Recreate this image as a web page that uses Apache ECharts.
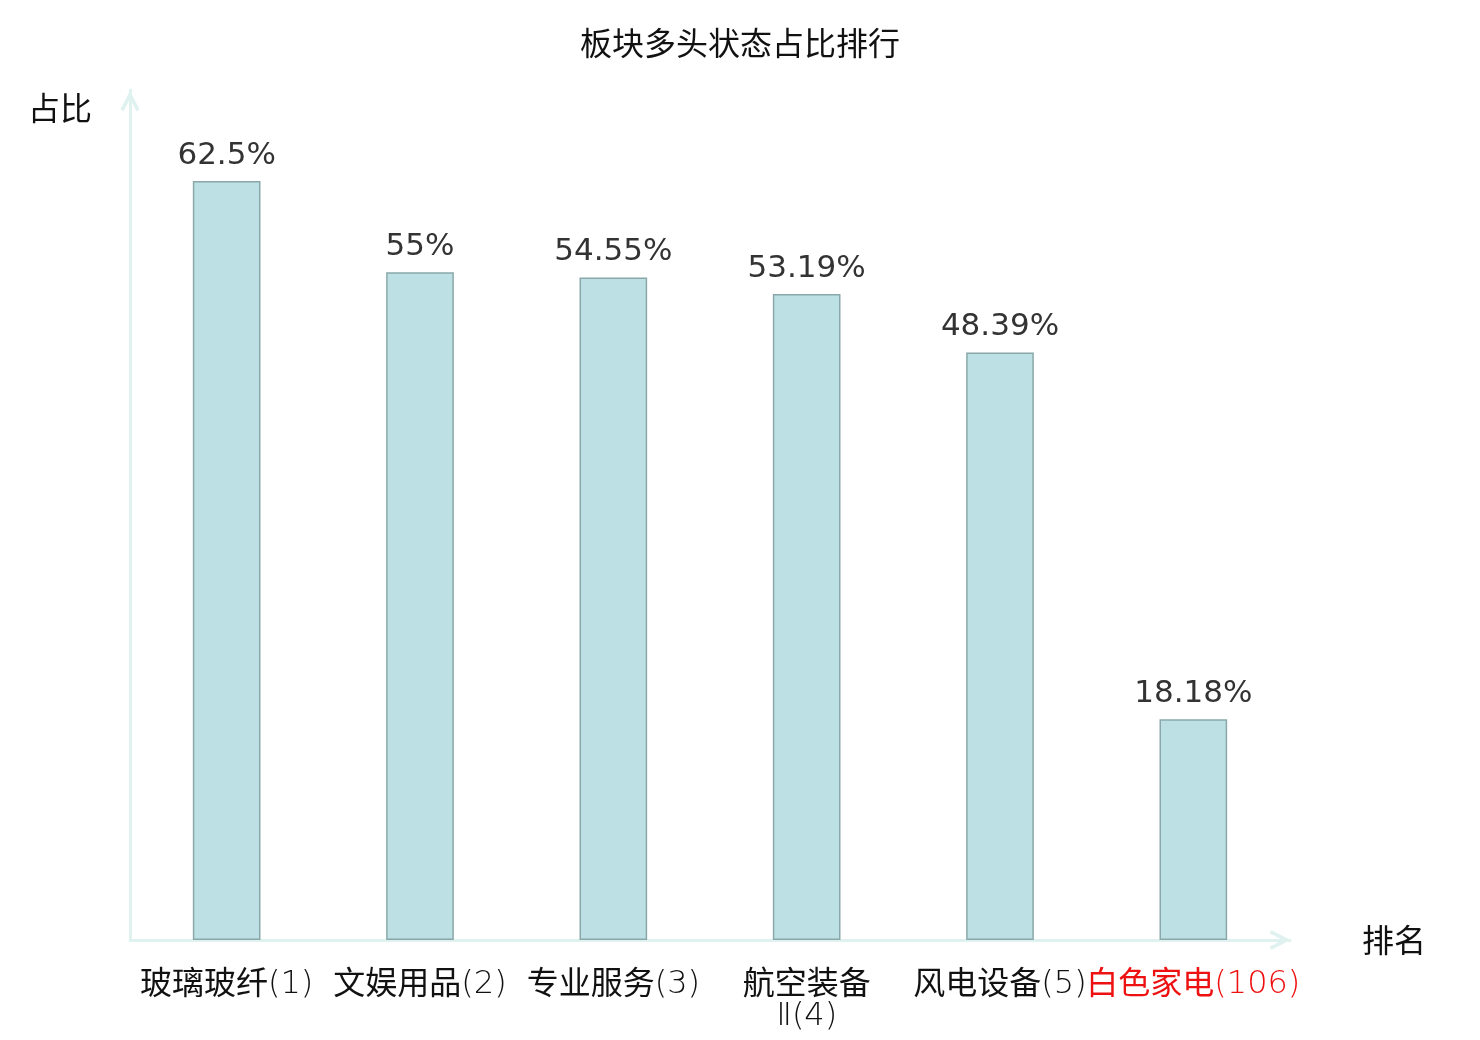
<!DOCTYPE html>
<html>
<head>
<meta charset="utf-8">
<script src="https://cdn.jsdelivr.net/npm/echarts@6/dist/echarts.min.js"></script>
<style>
  html, body { margin: 0; padding: 0; background: #fff; }
  #main { width: 1480px; height: 1040px; }
</style>
</head>
<body>
<div id="main"></div>
<script type="text/javascript">
  // 板块名称(排名)
  var categories = ['玻璃玻纤(1)', '文娱用品(2)', '专业服务(3)', '航空装备\nⅡ(4)', '风电设备(5)', '白色家电(106)'];
  // 多头状态占比 %
  var ratios = [62.5, 55, 54.55, 53.19, 48.39, 18.18];
  // 需要标红的板块
  var highlightIndex = 5;

  // 空心箭头
  var chevron = 'path://M9,0 L18,17.5 L15.2,19.5 L9,7.6 L2.8,19.5 L0,17.5 Z';

  var main = document.getElementById('main');
  var mainChart = echarts.init(main);

  // 中文部分用常规字体, 括号和数字用细体
  function labelText(value, red) {
    return value.split('\n').map(function (line) {
      var m = line.match(/^([\u4e00-\u9fff]*)(.*)$/);
      var s = '';
      if (m[1]) s += '{' + (red ? 'cr' : 'c') + '|' + m[1] + '}';
      if (m[2]) s += '{' + (red ? 'nr' : 'n') + '|' + m[2] + '}';
      return s;
    }).join('\n');
  }

  var cjkFont = 'Noto Sans CJK SC';
  var thinFont = '"DejaVu Sans ExtraLight", "DejaVu Sans"';

  var option = {
    backgroundColor: '#fff',
    title: {
      text: '板块多头状态占比排行',
      left: 'center',
      top: 22,
      textStyle: {
        fontFamily: cjkFont,
        fontSize: 32,
        fontWeight: 'normal',
        color: '#111'
      }
    },
    grid: {
      left: 130,
      right: 190,
      top: 90,
      bottom: 100
    },
    xAxis: {
      type: 'category',
      data: categories,
      name: '排名',
      nameGap: 72,
      nameTextStyle: {
        fontFamily: cjkFont,
        fontSize: 32,
        color: '#111'
      },
      axisLine: {
        symbol: ['none', chevron],
        symbolSize: [23, 21],
        symbolOffset: [0, -10],
        lineStyle: { color: '#dff2ef', width: 3 }
      },
      axisTick: { show: false },
      axisLabel: {
        interval: 0,
        margin: 26,
        fontFamily: cjkFont,
        fontSize: 32,
        lineHeight: 32,
        color: '#111',
        formatter: function (value, index) {
          return labelText(value, index === highlightIndex);
        },
        rich: {
          c: { fontFamily: cjkFont, fontSize: 32, lineHeight: 32, color: '#111' },
          n: { fontFamily: thinFont, fontWeight: 200, fontSize: 32, lineHeight: 32, padding: [6, 0, 0, 0], color: '#111' },
          cr: { fontFamily: cjkFont, fontSize: 32, lineHeight: 32, color: '#ee1111' },
          nr: { fontFamily: thinFont, fontWeight: 200, fontSize: 32, lineHeight: 32, padding: [6, 0, 0, 0], color: '#ee1111' }
        }
      }
    },
    yAxis: {
      type: 'value',
      min: 0,
      max: 70,
      name: '占比',
      nameGap: -34,
      nameTextStyle: {
        fontFamily: cjkFont,
        fontSize: 32,
        color: '#111',
        align: 'right',
        padding: [0, 38, 0, 0]
      },
      axisLine: {
        show: true,
        symbol: ['none', chevron],
        symbolSize: [19, 22],
        symbolOffset: [0, -11],
        lineStyle: { color: '#dff2ef', width: 3 }
      },
      axisTick: { show: false },
      axisLabel: { show: false },
      splitLine: { show: false }
    },
    series: [{
      type: 'bar',
      data: ratios,
      barWidth: '35%',
      itemStyle: {
        color: '#bce0e3',
        borderColor: '#8aa8a9',
        borderWidth: 1.5
      },
      label: {
        show: true,
        position: 'top',
        distance: 10,
        fontFamily: 'DejaVu Sans',
        fontSize: 31,
        color: '#333',
        formatter: function (p) {
          return p.value + '%';
        }
      }
    }]
  };

  mainChart.setOption(option);
</script>
</body>
</html>
